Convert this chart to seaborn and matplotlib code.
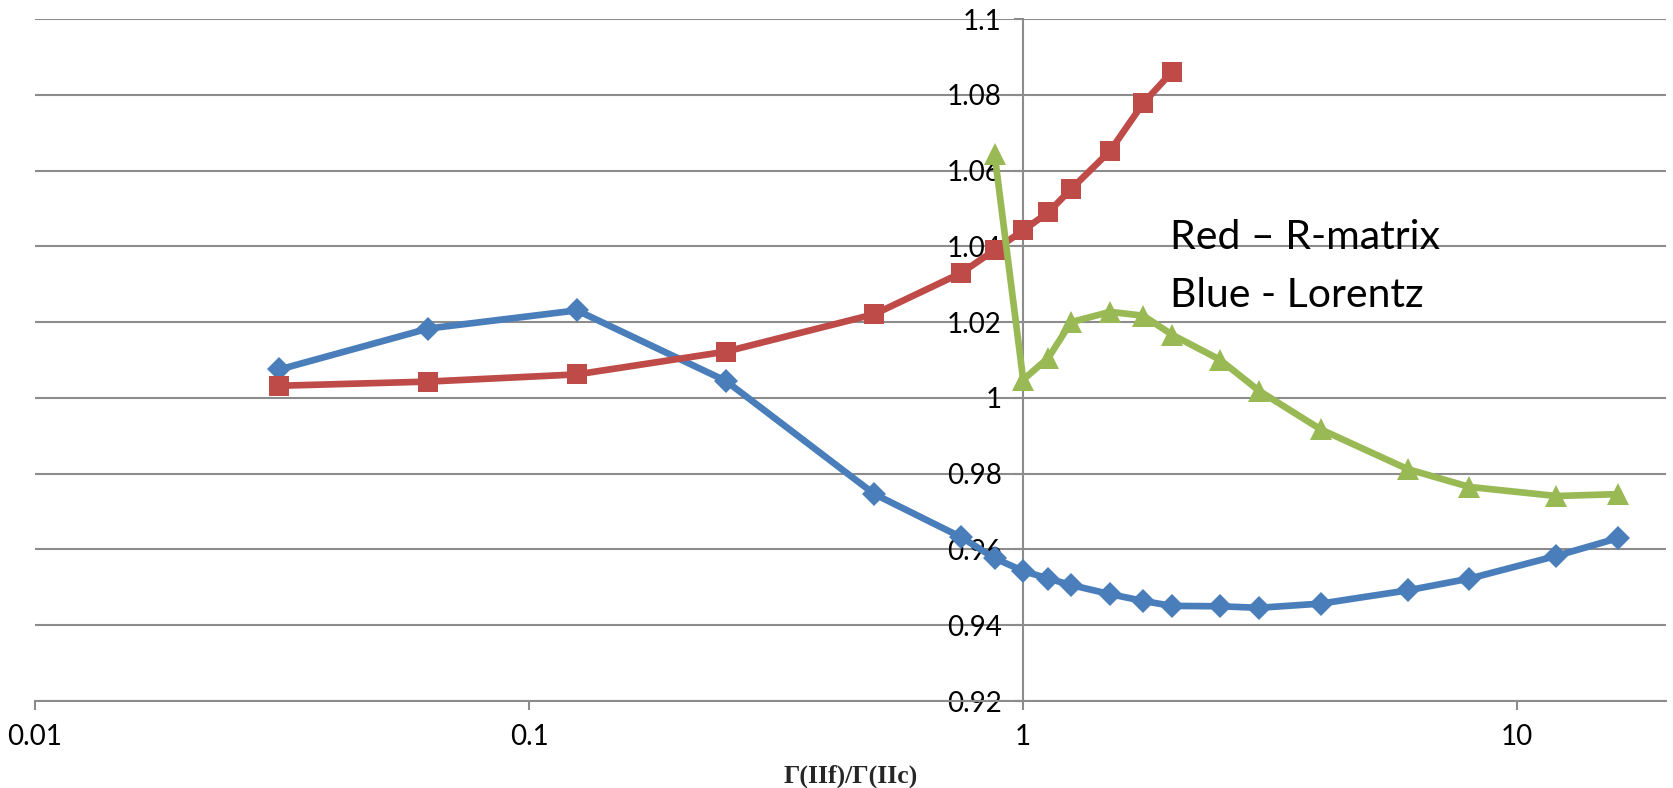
"""
plot.py — rasio Gamma: R-matrix vs Lorentz (recreated with seaborn).
"""

import matplotlib

matplotlib.use("Agg")
import matplotlib.pyplot as plt
import numpy as np
import pandas as pd
import seaborn as sns
from matplotlib.ticker import FixedLocator, FuncFormatter


# ============================================================
# Data
# ============================================================
BLUE_X = [1 / 32, 1 / 16, 1 / 8, 1 / 4, 0.5, 0.75, 0.875, 1.0, 1.125, 1.25,
          1.5, 1.75, 2.0, 2.5, 3.0, 4.0, 6.0, 8.0, 12.0, 16.0]
BLUE_Y = [1.0075, 1.0183, 1.0231, 1.0045, 0.9746, 0.9632, 0.9577, 0.9543, 0.9523, 0.9506,
          0.9482, 0.9464, 0.9451, 0.9450, 0.9446, 0.9457, 0.9492, 0.9523, 0.9583, 0.9630]

RED_X = [1 / 32, 1 / 16, 1 / 8, 1 / 4, 0.5, 0.75, 0.875, 1.0, 1.125, 1.25, 1.5, 1.75, 2.0]
RED_Y = [1.0032, 1.0043, 1.0062, 1.0122, 1.0221, 1.0330, 1.0390, 1.0442, 1.0490, 1.0551,
         1.0652, 1.0778, 1.0860]

GREEN_X = [0.875, 1.0, 1.125, 1.25, 1.5, 1.75, 2.0, 2.5, 3.0, 4.0, 6.0, 8.0, 12.0, 16.0]
GREEN_Y = [1.0645, 1.0048, 1.0106, 1.0200, 1.0227, 1.0217, 1.0167, 1.0101, 1.0019, 0.9917,
           0.9812, 0.9765, 0.9741, 0.9746]

X_TICKS = [0.01, 0.1, 1, 10]
Y_TICKS = [0.92, 0.94, 0.96, 0.98, 1.0, 1.02, 1.04, 1.06, 1.08, 1.1]

X_LABEL = "Γ(IIf)/Γ(IIc)"
NOTE_LINES = ["Red – R-matrix", "Blue - Lorentz"]

BLUE = "#4A7EBB"
RED = "#BE4B48"
GREEN = "#98B954"
GRID = "#8C8C8C"


def main() -> None:
    sns.set_theme(style="white")
    plt.rcParams["font.family"] = ["Lato", "DejaVu Sans"]

    fig = plt.figure(figsize=(16.73, 7.88), dpi=100)
    ax = fig.add_axes([35 / 1673, 1 - 701 / 788, 1631 / 1673, 682 / 788])

    series = [
        (BLUE_X, BLUE_Y, BLUE, "D", 12.5),
        (RED_X, RED_Y, RED, "s", 14.5),
        (GREEN_X, GREEN_Y, GREEN, "^", 16),
    ]
    for xs, ys, color, marker, ms in series:
        df = pd.DataFrame({"x": xs, "y": ys})
        sns.lineplot(
            data=df, x="x", y="y", ax=ax, color=color, linewidth=4.8,
            marker=marker, markersize=ms, markeredgewidth=0,
            estimator=None, sort=False, zorder=3,
        )

    ax.set_xscale("log")
    ax.set_xlim(0.01, 20)
    ax.set_ylim(0.92, 1.1)

    ax.xaxis.set_major_locator(FixedLocator(X_TICKS))
    ax.xaxis.set_minor_locator(FixedLocator([]))
    ax.yaxis.set_major_locator(FixedLocator(Y_TICKS))
    fmt = FuncFormatter(lambda v, _: f"{v:g}")
    ax.xaxis.set_major_formatter(fmt)
    ax.yaxis.set_major_formatter(fmt)

    # garis grid horizontal
    ax.grid(axis="y", color=GRID, linewidth=1.5)
    ax.grid(axis="x", visible=False)

    for side in ("top", "right"):
        ax.spines[side].set_visible(False)
    ax.spines["left"].set_position(("data", 1))
    for side in ("left", "bottom"):
        ax.spines[side].set_color(GRID)
        ax.spines[side].set_linewidth(1.5)

    ax.tick_params(axis="both", which="major", direction="out", colors=GRID,
                   labelcolor="black", labelsize=20, width=1.5, length=6.5)
    ax.tick_params(axis="x", pad=10)
    ax.tick_params(axis="y", pad=9)
    ax.tick_params(left=True, bottom=True)

    ax.set_xlabel(X_LABEL, family=["Liberation Serif", "DejaVu Serif"],
                  fontweight="bold", fontsize=18.5)
    ax.xaxis.set_label_coords(0.5, -0.093)
    ax.set_ylabel("")

    ax.text(0.696, 0.680, NOTE_LINES[0], transform=ax.transAxes,
            fontsize=29.5, va="center", ha="left", color="black")
    ax.text(0.696, 0.594, NOTE_LINES[1], transform=ax.transAxes,
            fontsize=29.5, va="center", ha="left", color="black")

    fig.savefig("out.png", dpi=100)
    plt.close(fig)


if __name__ == "__main__":
    main()
